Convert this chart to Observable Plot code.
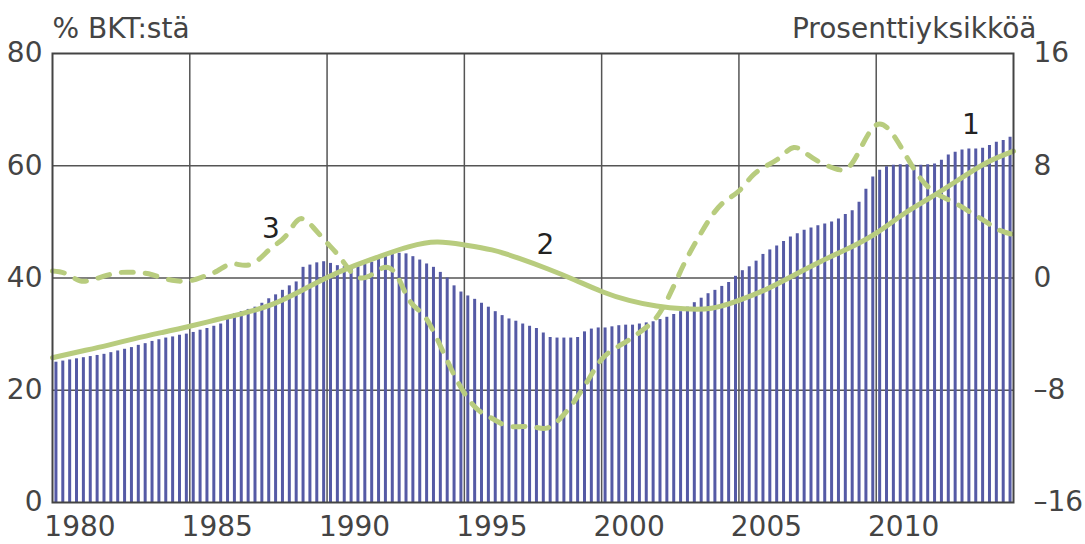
<!DOCTYPE html>
<html><head><meta charset="utf-8">
<script src="https://cdn.jsdelivr.net/npm/d3@7"></script>
<script src="https://cdn.jsdelivr.net/npm/@observablehq/plot@0.6"></script>
<style>body{margin:0;background:#fff}</style>
</head><body><div id="chart"></div>
<script>
// Quarterly debt ratio (% of GDP), 1979Q1 .. 2013Q4  (series 1, bars)
const startYear = 1979;
const debtRatio = [
  25.0, 25.2, 25.4, 25.6,   // 1979
  25.8, 26.0, 26.2, 26.4,   // 1980
  26.7, 27.0, 27.3, 27.6,   // 1981
  28.0, 28.3, 28.7, 29.0,   // 1982
  29.3, 29.5, 29.8, 30.0,   // 1983
  30.3, 30.7, 31.0, 31.4,   // 1984
  31.8, 33.3, 33.6, 34.0,   // 1985
  34.4, 34.8, 35.5, 36.3,   // 1986
  37.0, 37.8, 38.6, 39.3,   // 1987
  41.9, 42.3, 42.7, 42.9,   // 1988
  42.6, 42.2, 42.0, 41.9,   // 1989
  42.0, 42.4, 42.8, 43.5,   // 1990
  44.0, 44.3, 44.4, 44.3,   // 1991
  43.8, 43.2, 42.5, 41.9,   // 1992
  41.0, 40.0, 38.6, 37.5,   // 1993
  36.8, 36.2, 35.5, 34.8,   // 1994
  34.0, 33.3, 32.7, 32.3,   // 1995
  31.8, 31.4, 31.0, 30.2,   // 1996
  29.4, 29.3, 29.3, 29.3,   // 1997
  29.4, 30.4, 30.9, 31.1,   // 1998
  31.1, 31.3, 31.5, 31.6,   // 1999
  31.6, 31.8, 32.0, 32.2,   // 2000
  32.6, 33.0, 33.5, 34.0,   // 2001
  34.8, 35.6, 36.4, 37.2,   // 2002
  37.8, 38.5, 39.2, 40.3,   // 2003
  41.3, 42.0, 43.0, 44.2,   // 2004
  45.0, 45.7, 46.5, 47.3,   // 2005
  47.9, 48.5, 48.9, 49.3,   // 2006
  49.6, 50.0, 50.5, 51.3,   // 2007
  52.0, 53.5, 55.8, 58.0,   // 2008
  59.2, 59.8, 60.1, 60.2,   // 2009
  60.2, 60.1, 60.1, 60.2,   // 2010
  60.3, 61.0, 61.9, 62.4,   // 2011
  62.8, 63.0, 63.0, 63.1,   // 2012
  63.6, 64.2, 64.5, 65.1    // 2013
];

// Series 2: trend (% of GDP, left axis)
const trendYears  = [1979,1980,1981,1982,1983,1984,1985,1986,1987,1988,1989,1990,1991,1992,1993,1994,1995,1996,1997,1998,1999,2000,2001,2002,2003,2004,2005,2006,2007,2008,2009,2010,2011,2012,2013,2014];
const trendValues = [25.8,26.9,28.0,29.2,30.3,31.4,32.6,33.8,35.3,37.6,40.1,42.2,44.0,45.6,46.4,45.9,45.0,43.5,41.7,39.7,37.6,36.0,35.0,34.5,34.6,36.0,38.0,40.5,43.0,45.3,48.0,51.4,54.4,57.5,60.5,62.6];

// Series 3: gap (percentage points, right axis)
const gapYears  = [1979,1979.5,1980,1980.5,1981,1981.5,1982,1982.5,1983,1983.5,1984,1984.5,1985,1985.5,1986,1986.5,1987,1987.5,1988,1988.5,1989,1989.5,1990,1990.5,1991,1991.5,1992,1992.5,1993,1993.5,1994,1994.5,1995,1995.5,1996,1996.5,1997,1997.5,1998,1998.5,1999,1999.5,2000,2000.5,2001,2001.5,2002,2002.5,2003,2003.5,2004,2004.5,2005,2005.5,2006,2006.5,2007,2007.5,2008,2008.5,2009,2009.5,2010,2010.5,2011,2011.5,2012,2012.5,2013,2013.5,2014];
const gapValues = [0.5,0.3,-0.2,-0.1,0.2,0.4,0.4,0.3,0.0,-0.2,-0.2,0.1,0.5,1.0,0.9,1.3,2.2,3.0,4.2,3.6,2.5,1.4,0.2,0.1,0.7,0.3,-1.6,-2.6,-4.3,-6.4,-8.2,-9.4,-10.0,-10.5,-10.6,-10.6,-10.7,-10.0,-8.8,-7.3,-5.8,-5.0,-4.4,-3.7,-2.8,-1.1,1.0,2.8,4.4,5.5,6.2,7.3,8.0,8.6,9.3,8.8,8.2,7.8,7.9,9.5,10.9,10.5,9.0,7.4,6.3,5.7,5.2,4.6,4.0,3.4,3.1];

const leftTicks = [0, 20, 40, 60, 80];
const rightMin = -16, rightMax = 16;
const yearLabels = [1980, 1985, 1990, 1995, 2000, 2005, 2010];
const gridYears = [1984, 1989, 1994, 1999, 2004, 2009];
const leftTitle = "% BKT:stä";
const rightTitle = "Prosenttiyksikköä";
const seriesLabels = [
  {text: "1", year: 2012.45, value: 67.2},
  {text: "2", year: 1996.95, value: 45.8},
  {text: "3", year: 1986.95, value: 48.8}
];

// map right-axis values onto left scale
const toLeft = v => (v - rightMin) / (rightMax - rightMin) * 80;
const fromLeft = y => y / 80 * (rightMax - rightMin) + rightMin;

const bars = debtRatio.map((v, i) => ({t: startYear + i / 4 + 0.125, v}));
const trend = trendYears.map((t, i) => ({t, v: trendValues[i]}));
const gap = gapYears.map((t, i) => ({t, v: toLeft(gapValues[i])}));

const green = "#b8cc7e";
const font = "DejaVu Sans, sans-serif";

const chart = Plot.plot({
  width: 1085, height: 544,
  marginLeft: 52, marginRight: 72, marginTop: 53, marginBottom: 42,
  x: {domain: [1979, 2014], axis: null},
  y: {domain: [0, 80], axis: null},
  style: {fontFamily: font, background: "#fff", color: "#444"},
  marks: [
    Plot.ruleY(leftTicks.slice(1, -1), {stroke: "#555", strokeWidth: 1.5}),
    Plot.ruleX(gridYears, {stroke: "#555", strokeWidth: 1.5}),
    Plot.ruleX(bars, {x: "t", y1: 0, y2: "v", stroke: "#555aa5", strokeWidth: 3}),
    Plot.line(trend, {x: "t", y: "v", curve: "natural", stroke: green, strokeWidth: 5}),
    Plot.line(gap, {x: "t", y: "v", curve: "natural", stroke: green, strokeWidth: 5, strokeDasharray: "12,12", strokeLinecap: "round"}),
    Plot.frame({stroke: "#444", strokeWidth: 2}),
    Plot.axisY(leftTicks, {anchor: "left", tickSize: 0, tickPadding: 10, fontSize: 28, fill: "#444"}),
    Plot.axisY(leftTicks, {anchor: "right", tickSize: 0, tickPadding: 20, fontSize: 28, fill: "#444",
      tickFormat: d => { const v = Math.round(fromLeft(d)); return v < 0 ? "\u2013" + (-v) : String(v); }}),
    Plot.axisX(yearLabels, {anchor: "bottom", tickSize: 0, tickPadding: 14, fontSize: 28, fill: "#444", tickFormat: d => String(d)}),
    Plot.text([leftTitle], {frameAnchor: "top-left", textAnchor: "start", lineAnchor: "bottom", dy: -16, fontSize: 28, fill: "#444"}),
    Plot.text([rightTitle], {frameAnchor: "top-right", textAnchor: "end", lineAnchor: "bottom", dx: 23, dy: -16, fontSize: 28, fill: "#444"}),
    Plot.text(seriesLabels, {x: "year", y: "value", text: "text", fontSize: 28, fill: "#222"})
  ]
});
document.getElementById("chart").append(chart);
</script>
</body></html>
